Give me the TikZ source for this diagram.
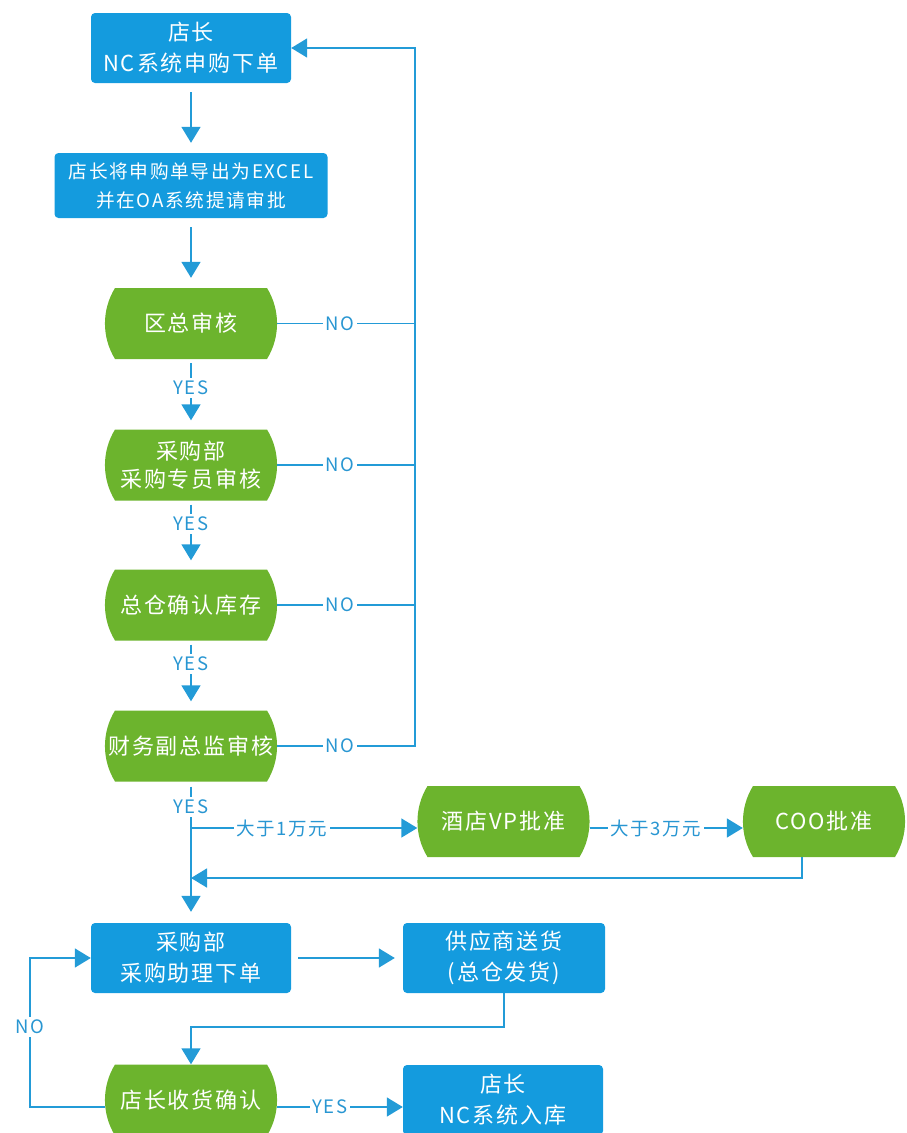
\documentclass[tikz,border=0pt]{standalone}
\usepackage{fontspec}
\setmainfont{Noto Sans CJK SC}[LetterSpace=9]
\usetikzlibrary{arrows.meta,calc}
\definecolor{boxblue}{RGB}{20,155,222}
\definecolor{boxgreen}{RGB}{108,180,45}
\definecolor{lineblue}{RGB}{35,155,215}
\definecolor{lblblue}{RGB}{40,150,210}
% name, x, y, half width, text
\newcommand\gnode[5]{%
  \fill[boxgreen] ({#2-#4+10},{#3-35.5}) -- ({#2+#4-10},{#3-35.5})
     .. controls +(13.4,21.8) and +(13.4,-21.8) .. ({#2+#4-10},{#3+35.5})
     -- ({#2-#4+10},{#3+35.5})
     .. controls +(-13.4,-21.8) and +(-13.4,21.8) .. ({#2-#4+10},{#3-35.5}) -- cycle;
  \node[gtext,minimum width={2*#4pt}] (#1) at (#2,#3) {#5};%
}
\begin{document}
\begin{tikzpicture}[x=1pt,y=-1pt,
  bbox/.style={fill=boxblue,text=white,rounded corners=4pt,align=center,inner sep=0pt,font=\fontsize{22}{31}\selectfont},
  gtext/.style={text=white,align=center,inner sep=0pt,minimum height=71pt,font=\fontsize{22}{28}\selectfont},
  ln/.style={draw=lineblue,line width=1.6pt},
  arr/.style={ln,-{Triangle[width=19pt,length=16pt]}},
  lbl/.style={fill=white,text=lblblue,inner sep=2.5pt,font=\fontsize{18.5}{20}\selectfont}]
\useasboundingbox (0,0) rectangle (906,1133);

% blue boxes
\node[bbox,minimum width=200pt,minimum height=70pt] (top) at (191,48) {店长\\NC系统申购下单};
\node[bbox,minimum width=273pt,minimum height=65pt,font=\fontsize{18.7}{29}\selectfont] (exp) at (191,185.5) {店长将申购单导出为EXCEL\\并在OA系统提请审批};
\node[bbox,minimum width=200pt,minimum height=70pt] (pur) at (191,958) {采购部\\采购助理下单};
\node[bbox,minimum width=202pt,minimum height=70pt] (sup) at (504,958) {供应商送货\\(总仓发货)};
\node[bbox,minimum width=200pt,minimum height=70pt] (fin) at (503,1100) {店长\\NC系统入库};

% green decision shapes
\gnode{g1}{191}{323.5}{86}{区总审核}
\gnode{g2}{191}{465}{86}{采购部\\采购专员审核}
\gnode{g3}{191}{605}{86}{总仓确认库存}
\gnode{g4}{191}{746}{86}{财务副总监审核}
\gnode{vp}{503.5}{821.5}{86}{酒店VP批准}
\gnode{coo}{824}{821.5}{81}{COO批准}
\gnode{g5}{191}{1100}{86}{店长收货确认}

% helper coordinates
\coordinate (vx) at (415,0);
\coordinate (br) at (191,828);
\coordinate (mg) at (191,878);
\coordinate (lp) at (30,0);
\coordinate (g5r) at ([yshift=-7pt]g5.east);
\coordinate (g5l) at ([yshift=-7pt]g5.west);
\coordinate (cooB) at ([xshift=-22pt]coo.south);

% main flow
\draw[arr,shorten <=9pt,shorten >=10pt] (top.south) -- (exp.north);
\draw[arr,shorten <=9pt,shorten >=10pt] (exp.south) -- (g1.north);
\draw[arr,shorten <=4pt,shorten >=9pt] (g1.south) -- (g2.north);
\draw[arr,shorten <=4pt,shorten >=9pt] (g2.south) -- (g3.north);
\draw[arr,shorten <=4pt,shorten >=9pt] (g3.south) -- (g4.north);
\draw[arr,shorten <=5pt,shorten >=11pt] (g4.south) -- (pur.north);

% NO feedback
\draw[ln] (g1.east) -- (g1.east -| vx);
\draw[ln] (g2.east) -- (g2.east -| vx);
\draw[ln] (g3.east) -- (g3.east -| vx);
\draw[arr] (g4.east) -- (g4.east -| vx) |- (top.east);

% approvals
\draw[arr] (br) -- (vp.west |- br);
\draw[arr] (vp.east |- br) -- (coo.west |- br);
\draw[arr] (cooB) |- (mg);

% bottom part
\draw[arr,shorten <=7pt,shorten >=8pt] (pur.east) -- (sup.west);
\draw[arr] (sup.south) -- ++(0,34) -| (g5.north);
\draw[arr] (g5r) -- (g5r -| fin.west);
\draw[arr] (g5l) -| (lp |- pur.west) -- (pur.west);

% labels
\node[lbl] (no1) at (340,323.5) {NO};
\node[lbl] (no2) at (340,465) {NO};
\node[lbl] (no3) at (340,605) {NO};
\node[lbl] (no4) at (340,746) {NO};
\node[lbl] (yes1) at (191,388) {YES};
\node[lbl] (yes2) at (191,524) {YES};
\node[lbl] (yes3) at (191,664) {YES};
\node[lbl] (yes4) at (191,807) {YES};
\node[lbl] (w1) at (282,828) {大于1万元};
\node[lbl] (w3) at (656,828) {大于3万元};
\node[lbl] (no5) at (30,1027) {NO};
\node[lbl] (yes5) at (330,1107) {YES};
\end{tikzpicture}
\end{document}
